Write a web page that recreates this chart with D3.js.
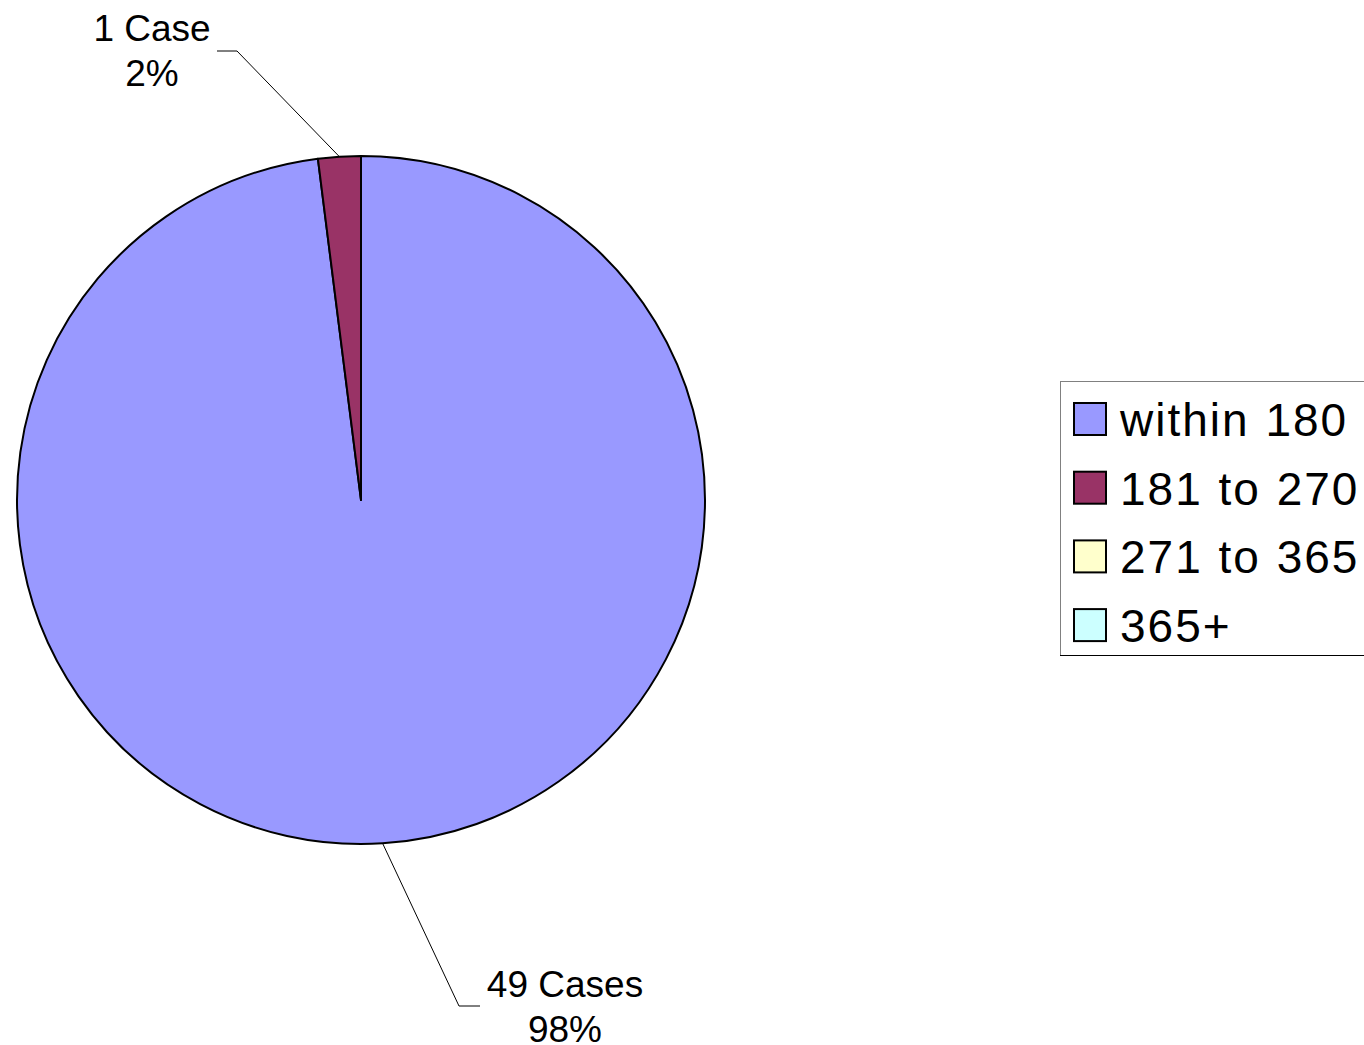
<!DOCTYPE html>
<html>
<head>
<meta charset="utf-8">
<script src="https://cdn.jsdelivr.net/npm/d3@7"></script>
<style>
  body { margin: 0; background: #fff; }
  svg text { font-family: "Liberation Sans", Arial, sans-serif; fill: #000; }
</style>
</head>
<body>
<script>
var categories = ["within 180", "181 to 270", "271 to 365", "365+"];
var cases = [49, 1, 0, 0];
var colors = ["#9999ff", "#993366", "#ffffcc", "#ccffff"];

var width = 1364, height = 1045;
var cx = 361, cy = 500, radius = 344;

var svg = d3.select("body").append("svg")
    .attr("width", width)
    .attr("height", height);

var total = d3.sum(cases);
var data = categories.map(function(c, i) { return {name: c, value: cases[i], color: colors[i]}; });

var pie = d3.pie()
    .sort(null)
    .value(function(d) { return d.value; });

var arc = d3.arc()
    .innerRadius(0)
    .outerRadius(radius);

var arcs = pie(data).filter(function(d) { return d.data.value > 0; });

var g = svg.append("g")
    .attr("transform", "translate(" + cx + "," + cy + ")");

g.selectAll("path")
    .data(arcs)
    .enter().append("path")
    .attr("d", arc)
    .attr("fill", function(d) { return d.data.color; })
    .attr("stroke", "#000")
    .attr("stroke-width", 2)
    .attr("stroke-linejoin", "round");

// label placement (elbow point, end of horizontal tick, text anchor point)
var labelPos = {
    "181 to 270": {elbow: [237, 51], end: [217, 51], text: [152, 41]},
    "within 180": {elbow: [459, 1006], end: [480, 1006], text: [565, 997]}
};

arcs.forEach(function(d) {
    var p = labelPos[d.data.name];
    if (!p) return;
    var mid = (d.startAngle + d.endAngle) / 2;
    var sx = cx + radius * Math.sin(mid), sy = cy - radius * Math.cos(mid);
    svg.append("polyline")
        .attr("points", [[sx, sy], p.elbow, p.end].map(function(q) { return q.join(","); }).join(" "))
        .attr("fill", "none")
        .attr("stroke", "#000")
        .attr("stroke-width", 1);
    var pct = Math.round(d.data.value / total * 100) + "%";
    var t = svg.append("text")
        .attr("x", p.text[0])
        .attr("y", p.text[1])
        .attr("text-anchor", "middle")
        .style("font-size", "37px");
    t.append("tspan").attr("x", p.text[0]).text(d.data.value + (d.data.value === 1 ? " Case" : " Cases"));
    t.append("tspan").attr("x", p.text[0]).attr("dy", 45).text(pct);
});

// legend
var legend = svg.append("g").attr("transform", "translate(1060,381)");
legend.append("rect")
    .attr("x", 0.5).attr("y", 0.5)
    .attr("width", 330).attr("height", 274)
    .attr("fill", "#fff")
    .attr("stroke", "#808080")
    .attr("stroke-width", 1);
legend.append("line")
    .attr("x1", 0).attr("x2", 330)
    .attr("y1", 274.5).attr("y2", 274.5)
    .attr("stroke", "#000");

var item = legend.selectAll("g.item")
    .data(data)
    .enter().append("g")
    .attr("class", "item")
    .attr("transform", function(d, i) { return "translate(0," + (22 + i * 68.7) + ")"; });

item.append("rect")
    .attr("x", 14).attr("y", 0)
    .attr("width", 32).attr("height", 32)
    .attr("fill", function(d) { return d.color; })
    .attr("stroke", "#000")
    .attr("stroke-width", 2);

item.append("text")
    .attr("x", 60)
    .attr("y", 33)
    .style("font-size", "46px")
    .style("letter-spacing", "2px")
    .style("word-spacing", "1px")
    .text(function(d) { return d.name; });
</script>
</body>
</html>
